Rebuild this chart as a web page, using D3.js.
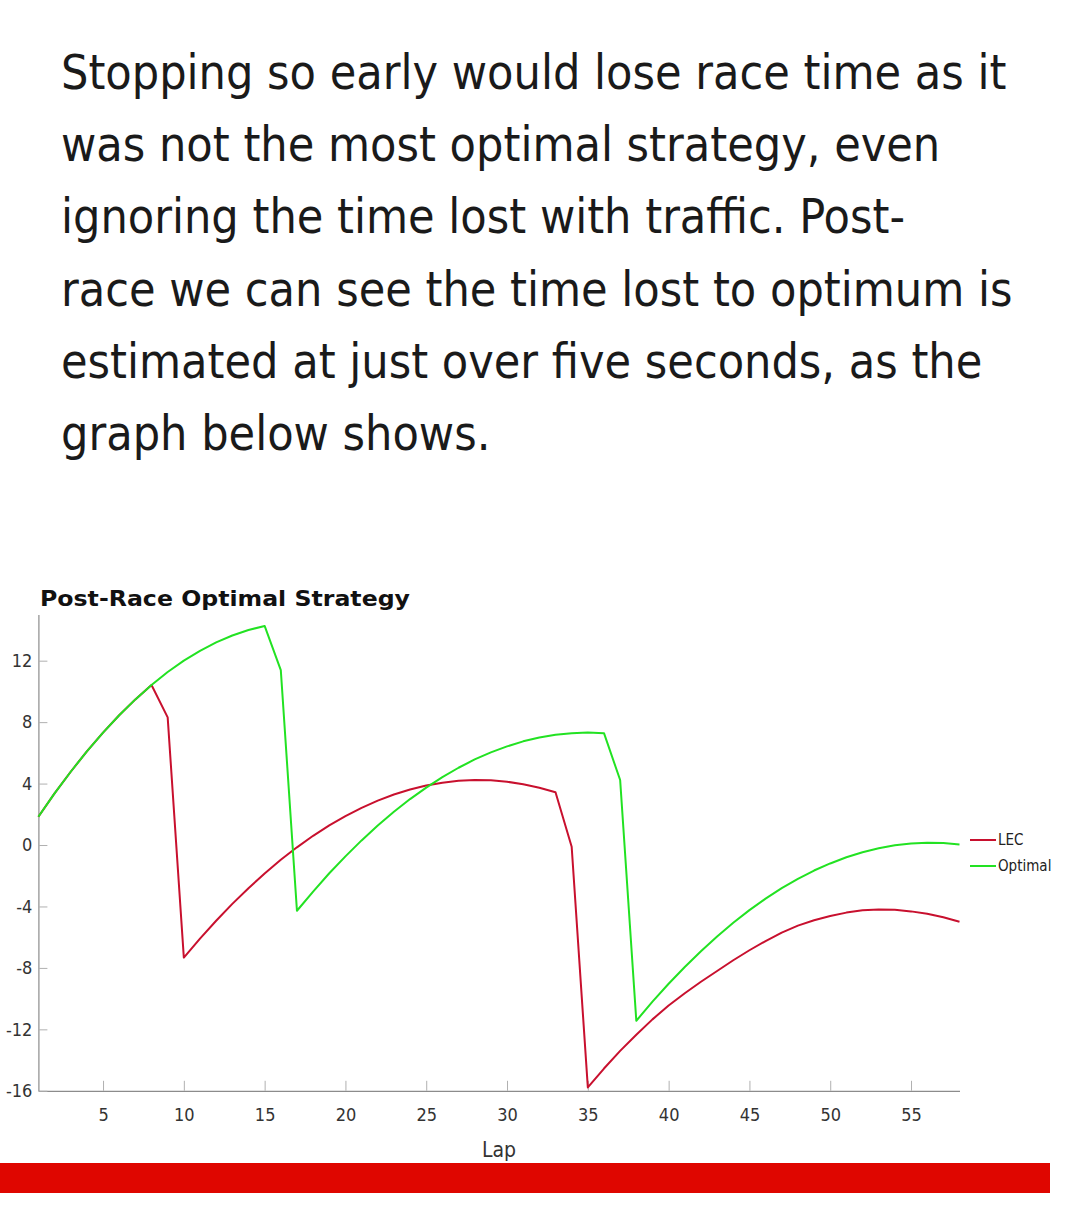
<!DOCTYPE html>
<html>
<head>
<meta charset="utf-8">
<script src="https://cdn.jsdelivr.net/npm/d3@7"></script>
<style>
  html, body { margin: 0; padding: 0; background: #fff; }
  svg { display: block; }
  .cond { font-family: "Liberation Sans Narrow", "DejaVu Sans Condensed", "Roboto Condensed", sans-serif; }
</style>
</head>
<body>
<div id="chart"></div>
<script>
// intro paragraph, one entry per rendered line
const introLines = [
  "Stopping so early would lose race time as it",
  "was not the most optimal strategy, even",
  "ignoring the time lost with traffic. Post-",
  "race we can see the time lost to optimum is",
  "estimated at just over five seconds, as the",
  "graph below shows."
];

const chartTitle = "Post-Race Optimal Strategy";
const xLabel = "Lap";

const laps = [1,2,3,4,5,6,7,8,9,10,11,12,13,14,15,16,17,18,19,20,
  21,22,23,24,25,26,27,28,29,30,31,32,33,34,35,36,37,38,39,40,
  41,42,43,44,45,46,47,48,49,50,51,52,53,54,55,56,57,58];

// gap to reference race time (s)
const lecGap = [1.84,3.36,4.77,6.10,7.32,8.45,9.48,10.42,8.31,-7.33,
  -6.09,-4.93,-3.83,-2.81,-1.85,-0.96,-0.15,0.60,1.28,1.88,
  2.42,2.89,3.29,3.61,3.87,4.06,4.18,4.23,4.21,4.12,
  3.96,3.73,3.43,-0.11,-15.78,-14.55,-13.4,-12.35,-11.35,-10.45,
  -9.65,-8.9,-8.2,-7.5,-6.85,-6.25,-5.7,-5.25,-4.9,-4.62,
  -4.4,-4.25,-4.19,-4.22,-4.32,-4.47,-4.7,-4.99];

const optimalGap = [1.84,3.36,4.77,6.10,7.32,8.45,9.48,10.42,11.26,12.00,
  12.64,13.19,13.64,14.00,14.26,11.39,-4.28,-3.03,-1.84,-0.74,
  0.30,1.27,2.16,2.99,3.74,4.42,5.03,5.57,6.03,6.42,
  6.75,7.00,7.18,7.28,7.32,7.28,4.23,-11.44,-10.20,-9.03,
  -7.94,-6.91,-5.95,-5.06,-4.24,-3.49,-2.81,-2.20,-1.66,-1.20,
  -0.80,-0.47,-0.21,-0.02,0.10,0.15,0.13,0.04];

const seriesNames = ["LEC", "Optimal"];
const seriesColors = ["#c8102e", "#22e222"];

const xTicks = [5,10,15,20,25,30,35,40,45,50,55];
const yTicks = [-16,-12,-8,-4,0,4,8,12];

const W = 1080, H = 1223;
const plot = {left: 38.4, right: 959.5, top: 614.6, bottom: 1090.8};

const svg = d3.select("#chart").append("svg")
    .attr("width", W).attr("height", H);

svg.append("rect").attr("width", W).attr("height", H).attr("fill", "#fff");

// paragraph
svg.append("g").selectAll("text")
    .data(introLines)
    .enter().append("text")
    .attr("class", "cond")
    .attr("x", 61)
    .attr("y", (d, i) => 89 + i * 72.2)
    .attr("font-size", "48px")
    .attr("fill", "#1a1a1a")
    .text(d => d);

// title
svg.append("text")
    .attr("x", 40).attr("y", 606)
    .attr("font-family", "DejaVu Sans, sans-serif")
    .attr("font-weight", "bold")
    .attr("font-size", "22px")
    .attr("textLength", 370)
    .attr("lengthAdjust", "spacingAndGlyphs")
    .attr("fill", "#111")
    .text(chartTitle);

const x = d3.scaleLinear().domain([1, 58]).range([plot.left, plot.right]);
const y = d3.scaleLinear().domain([-16, 15]).range([plot.bottom, plot.top]);

// axes
const xAxis = d3.axisBottom(x).tickValues(xTicks).tickSizeInner(-10).tickSizeOuter(0).tickPadding(17);
const yAxis = d3.axisLeft(y).tickValues(yTicks).tickSizeInner(-9).tickSizeOuter(0).tickPadding(6)
    .tickFormat(d => String(d));

const gx = svg.append("g").attr("transform", "translate(0," + plot.bottom + ")").call(xAxis);
const gy = svg.append("g").attr("transform", "translate(" + plot.left + ",0)").call(yAxis);

[gx, gy].forEach(g => {
    g.select(".domain").attr("stroke", "#8c8c8c").attr("stroke-width", 1.2);
    g.selectAll(".tick line").attr("stroke", "#b0b0b0");
    g.selectAll(".tick text")
        .attr("class", "cond")
        .attr("font-size", "18px")
        .attr("fill", "#333");
});

svg.append("text")
    .attr("class", "cond")
    .attr("x", 499).attr("y", 1157)
    .attr("text-anchor", "middle")
    .attr("font-size", "21px")
    .attr("fill", "#333")
    .text(xLabel);

// lines
const line = d3.line()
    .x((d, i) => x(laps[i]))
    .y(d => y(d));

[lecGap, optimalGap].forEach((s, k) => {
    svg.append("path")
        .datum(s)
        .attr("d", line)
        .attr("fill", "none")
        .attr("stroke", seriesColors[k])
        .attr("stroke-width", 2)
        .attr("stroke-linejoin", "round");
});

// legend
const legend = svg.append("g").selectAll("g")
    .data(seriesNames)
    .enter().append("g")
    .attr("transform", (d, i) => "translate(970," + (840 + i * 26) + ")");

legend.append("line")
    .attr("x1", 0).attr("x2", 26)
    .attr("stroke", (d, i) => seriesColors[i])
    .attr("stroke-width", 2);

legend.append("text")
    .attr("class", "cond")
    .attr("x", 28).attr("dy", "0.35em")
    .attr("font-size", "15px")
    .attr("fill", "#222")
    .text(d => d);

// red footer band
svg.append("rect")
    .attr("x", 0).attr("y", 1163)
    .attr("width", 1050).attr("height", 30)
    .attr("fill", "#df0600");
</script>
</body>
</html>
